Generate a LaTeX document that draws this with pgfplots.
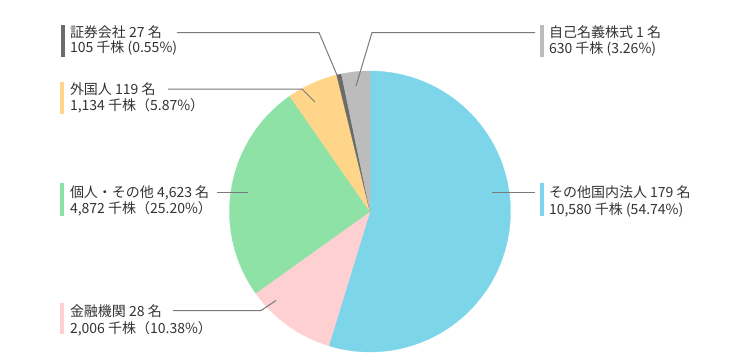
\documentclass[border=0pt]{standalone}
\usepackage{pgfplots}
\usepackage{pgfplotstable}
\pgfplotsset{compat=1.18}
\usepackage{fontspec}
\setmainfont{Noto Sans CJK JP}
\definecolor{slice0}{HTML}{7DD5EA}
\definecolor{slice1}{HTML}{FFD0D2}
\definecolor{slice2}{HTML}{8EE2A5}
\definecolor{slice3}{HTML}{FFD589}
\definecolor{slice4}{HTML}{6B6B6B}
\definecolor{slice5}{HTML}{BCBCBC}
\definecolor{txt}{HTML}{333333}
\definecolor{lead}{HTML}{7A7A7A}
\tikzset{lbl/.style={anchor=base west, inner sep=0pt, outer sep=0pt, font=\fontsize{14}{16}\selectfont, text=txt}}
% share of each holder group, in %, clockwise from 12 o'clock
\pgfplotstableread{
pct shares holders
54.74 10580 179
10.38 2006 28
25.20 4872 4623
5.87 1134 119
0.55 105 27
3.26 630 1
}\piedata
\begin{document}
\begin{tikzpicture}
\begin{axis}[
  scale only axis, width=732pt, height=360pt,
  xmin=0, xmax=732, ymin=0, ymax=360,
  hide axis, clip=false,
]
\path (axis cs:0,0) rectangle (axis cs:732,360);
\pgfmathsetmacro{\angstart}{90}
\pgfplotsforeachungrouped \i in {0,...,5}{%
  \pgfplotstablegetelem{\i}{pct}\of\piedata
  \pgfmathsetmacro{\angend}{\angstart-3.6*\pgfplotsretval}%
  \edef\doslice{\noexpand\addplot[fill=slice\i, draw=slice\i, line width=0.3pt, domain=\angend:\angstart, samples=90] ({370+140.5*cos(x)},{148.5+140.5*sin(x)}) -- (axis cs:370,148.5) -- cycle;}%
  \doslice
  \global\let\angstart\angend
}
% leader lines
\draw[lead, line width=1pt] (axis cs:177,327.5) -- (axis cs:319,327.5) -- (axis cs:337,285);
\draw[lead, line width=1pt] (axis cs:535,327.5) -- (axis cs:372,327.5) -- (axis cs:356,274);
\draw[lead, line width=1pt] (axis cs:168,271) -- (axis cs:302,271) -- (axis cs:315,258);
\draw[lead, line width=1pt] (axis cs:217,168) -- (axis cs:248,168);
\draw[lead, line width=1pt] (axis cs:492,168) -- (axis cs:535,168);
\draw[lead, line width=1pt] (axis cs:173,49.5) -- (axis cs:261,49.5) -- (axis cs:276,59.5);
% colour bars
\fill[slice4] (axis cs:61,335) rectangle (axis cs:65,303);
\fill[slice3] (axis cs:60,278.3) rectangle (axis cs:64,246);
\fill[slice2] (axis cs:60,176.7) rectangle (axis cs:64,144.3);
\fill[slice1] (axis cs:60,57.3) rectangle (axis cs:64,25.7);
\fill[slice5] (axis cs:540,335) rectangle (axis cs:544,303.3);
\fill[slice0] (axis cs:540,176.7) rectangle (axis cs:544,144);
% labels
\node[lbl] at (axis cs:70,322.5) {証券会社 27 名};
\node[lbl] at (axis cs:70,307.5) {105 千株 (0.55\%)};
\node[lbl] at (axis cs:70,265.5) {外国人 119 名};
\node[lbl] at (axis cs:70,249.5) {1,134 千株（5.87\%）};
\node[lbl] at (axis cs:70,163) {個人・その他 4,623 名};
\node[lbl] at (axis cs:70,146.5) {4,872 千株（25.20\%）};
\node[lbl] at (axis cs:70,44) {金融機関 28 名};
\node[lbl] at (axis cs:70,27) {2,006 千株（10.38\%）};
\node[lbl] at (axis cs:549,322.5) {自己名義株式 1 名};
\node[lbl] at (axis cs:549,306.5) {630 千株 (3.26\%)};
\node[lbl] at (axis cs:549,163) {その他国内法人 179 名};
\node[lbl] at (axis cs:549,146) {10,580 千株 (54.74\%)};
\end{axis}
\end{tikzpicture}
\end{document}
